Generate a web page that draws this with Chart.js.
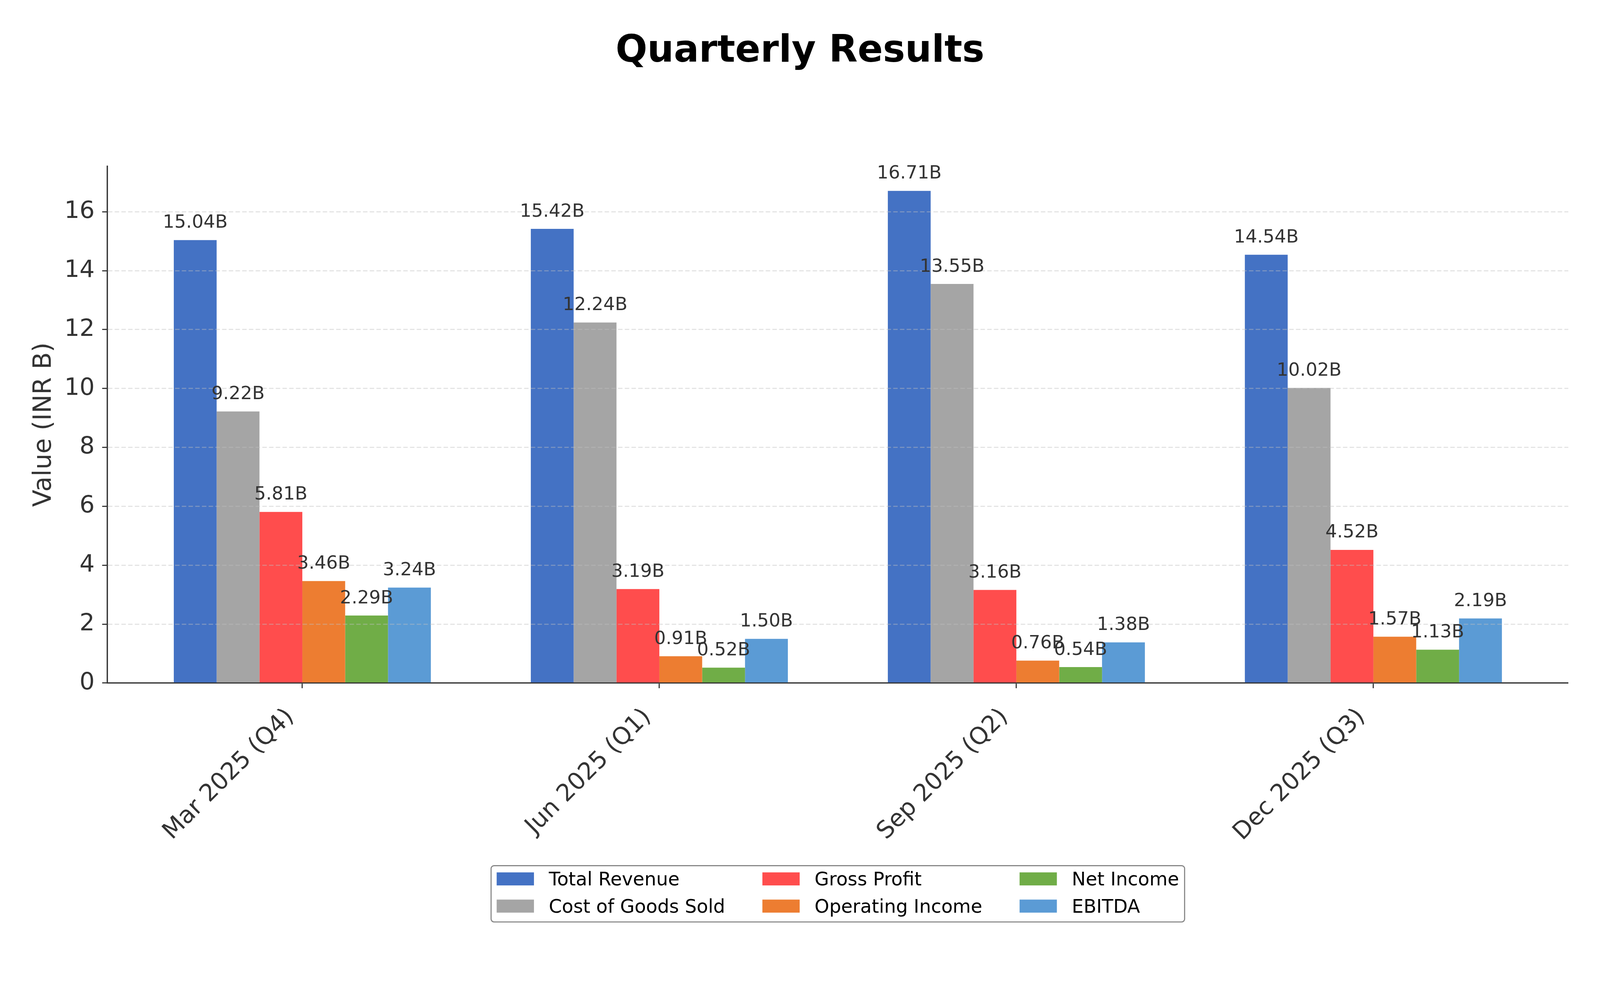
<!DOCTYPE html>
<html lang="en">
<head>
  <meta charset="UTF-8" />
  <title>Quarterly Results</title>
  <script src="https://cdn.jsdelivr.net/npm/chart.js"></script>
  <style>
    html, body { margin: 0; padding: 0; background: #fff; overflow: hidden; }
    #wrap { width: 100vw; height: 100vh; }
  </style>
</head>
<body>
  <div id="wrap"><canvas id="chart"></canvas></div>

  <script>
    // data (INR billions)
    const quarters = ['Mar 2025 (Q4)', 'Jun 2025 (Q1)', 'Sep 2025 (Q2)', 'Dec 2025 (Q3)']
    const seriesNames = ['Total Revenue', 'Cost of Goods Sold', 'Gross Profit', 'Operating Income', 'Net Income', 'EBITDA']
    const totalRevenue = [15.04, 15.42, 16.71, 14.54]
    const costOfGoods = [9.22, 12.24, 13.55, 10.02]
    const grossProfit = [5.81, 3.19, 3.16, 4.52]
    const operatingIncome = [3.46, 0.91, 0.76, 1.57]
    const netIncome = [2.29, 0.52, 0.54, 1.13]
    const ebitda = [3.24, 1.50, 1.38, 2.19]
    const colors = ['#4472C4', '#A5A5A5', '#FF4D4D', '#ED7D31', '#70AD47', '#5B9BD5']

    const allSeries = [totalRevenue, costOfGoods, grossProfit, operatingIncome, netIncome, ebitda]
    const yMax = Math.max(...allSeries.flat()) * 1.05

    // sizes below are measured on a 4291 px wide figure, scale them to the real viewport
    const k = (window.innerWidth || 4291) / 4291
    const px = v => v * k

    Chart.defaults.font.family = "'DejaVu Sans', sans-serif"

    // value labels above each bar
    const valueLabels = {
      id: 'valueLabels',
      afterDraw(chart) {
        const ctx = chart.ctx
        ctx.save()
        ctx.font = `${px(49)}px 'DejaVu Sans'`
        ctx.fillStyle = '#333'
        ctx.textAlign = 'center'
        ctx.textBaseline = 'alphabetic'
        chart.data.datasets.forEach((ds, di) => {
          chart.getDatasetMeta(di).data.forEach((bar, i) => {
            ctx.fillText(ds.data[i].y.toFixed(2) + 'B', bar.x, bar.y - px(33))
          })
        })
        ctx.restore()
      }
    }

    // matplotlib style legend: 3 columns, filled column by column
    const columnLegend = {
      id: 'columnLegend',
      afterDraw(chart) {
        const ctx = chart.ctx
        const area = chart.chartArea
        const sets = chart.data.datasets
        const patchW = px(100), patchH = px(35), textGap = px(40), colGap = px(100), pad = px(15)
        ctx.save()
        ctx.font = `${px(50)}px 'DejaVu Sans'`
        const cols = []
        for (let i = 0; i < sets.length; i += 2) cols.push(sets.slice(i, i + 2))
        const colW = cols.map(c => patchW + textGap + Math.max(...c.map(d => ctx.measureText(d.label).width)))
        const boxW = pad * 2 + colW.reduce((a, b) => a + b, 0) + colGap * (cols.length - 1)
        const boxX = (area.left + area.right) / 2 - boxW / 2
        const boxY = px(2322), boxH = px(151)

        ctx.beginPath()
        ctx.roundRect(boxX, boxY, boxW, boxH, px(8))
        ctx.fillStyle = '#fff'
        ctx.fill()
        ctx.lineWidth = px(3)
        ctx.strokeStyle = '#888'
        ctx.stroke()

        let x = boxX + pad
        cols.forEach((c, ci) => {
          c.forEach((d, ri) => {
            const cy = boxY + px(35.5 + ri * 73)
            ctx.fillStyle = d.backgroundColor
            ctx.fillRect(x, cy - patchH / 2, patchW, patchH)
            ctx.fillStyle = '#000'
            ctx.textAlign = 'left'
            ctx.textBaseline = 'alphabetic'
            ctx.fillText(d.label, x + patchW + textGap, cy + patchH / 2)
          })
          x += colW[ci] + colGap
        })
        ctx.restore()
      }
    }

    const datasets = seriesNames.map((name, s) => ({
      label: name,
      data: quarters.map((q, i) => ({ x: i, y: allSeries[s][i] })),
      backgroundColor: colors[s],
      borderWidth: 0,
      categoryPercentage: 0.72,
      barPercentage: 1.0
    }))

    new Chart(document.getElementById('chart'), {
      type: 'bar',
      data: { datasets },
      plugins: [valueLabels, columnLegend],
      options: {
        responsive: true,
        maintainAspectRatio: false,
        animation: false,
        layout: { padding: 0 },
        plugins: {
          legend: { display: false },
          tooltip: { enabled: false },
          title: {
            display: true,
            text: 'Quarterly Results',
            color: '#000',
            font: { size: px(100), weight: 'bold' },
            padding: { top: px(80), bottom: px(246) }
          }
        },
        scales: {
          x: {
            type: 'linear',
            min: -0.546,
            max: 3.546,
            offset: false,
            afterBuildTicks: s => { s.ticks = quarters.map((q, i) => ({ value: i })) },
            afterFit: s => { s.height = s.chart.height - px(1832) },
            ticks: {
              callback: v => quarters[v],
              autoSkip: false,
              minRotation: 45,
              maxRotation: 45,
              color: '#333',
              font: { size: px(64) },
              padding: px(40),
              labelOffset: -px(32)
            },
            grid: { drawOnChartArea: false, offset: false, tickColor: '#333', tickWidth: px(3), tickLength: px(14) },
            border: { color: '#333', width: px(3.5) }
          },
          y: {
            min: 0,
            max: yMax,
            afterFit: s => { s.width = px(288) },
            ticks: { stepSize: 2, includeBounds: false, color: '#333', font: { size: px(64) }, padding: px(20) },
            grid: {
              z: 1,
              color: c => c.tick && c.tick.value === 0 ? 'rgba(0,0,0,0)' : 'rgba(190,190,190,0.45)',
              lineWidth: px(3),
              tickColor: '#333',
              tickWidth: px(3),
              tickLength: px(14)
            },
            border: { z: 1, color: '#333', width: px(3.5), dash: [px(12), px(6)] },
            title: {
              display: true,
              text: 'Value (INR B)',
              color: '#333',
              font: { size: px(67) },
              padding: { top: px(79), bottom: 0 }
            }
          },
          // empty right margin, keeps the title centred on the whole figure
          rightMargin: {
            position: 'right',
            display: true,
            afterFit: s => { s.width = px(85) },
            ticks: { display: false },
            grid: { display: false },
            border: { display: false }
          }
        }
      }
    })
  </script>
</body>
</html>
